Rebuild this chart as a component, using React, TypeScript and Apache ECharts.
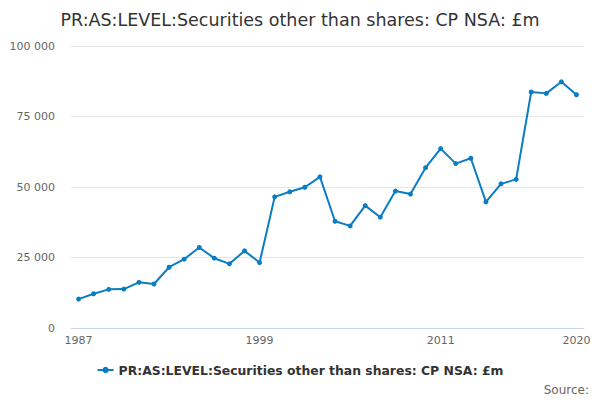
import React, { useEffect, useRef } from "react";
import * as echarts from "echarts";

const title = "PR:AS:LEVEL:Securities other than shares: CP NSA: £m";
const seriesName = "PR:AS:LEVEL:Securities other than shares: CP NSA: £m";
const years = [
  "1987", "1988", "1989", "1990", "1991", "1992", "1993", "1994", "1995", "1996",
  "1997", "1998", "1999", "2000", "2001", "2002", "2003", "2004", "2005", "2006",
  "2007", "2008", "2009", "2010", "2011", "2012", "2013", "2014", "2015", "2016",
  "2017", "2018", "2019", "2020",
];
const values = [
  10250, 12150, 13700, 13800, 16200, 15600, 21550, 24400, 28550, 24750,
  22750, 27350, 23200, 46500, 48300, 49900, 53600, 37850, 36200, 43400,
  39300, 48550, 47500, 56850, 63600, 58300, 60200, 44700, 51100, 52700,
  83700, 83200, 87300, 82700,
];
const yTicks = [0, 25000, 50000, 75000, 100000];

export default function App() {
  const ref = useRef<HTMLDivElement>(null);
  useEffect(() => {
    if (!ref.current) return;
    const chart = echarts.init(ref.current, null, { renderer: "svg" });
    const font = "DejaVu Sans";
    const lastIdx = years.length - 1;
    chart.setOption({
      animation: false,
      textStyle: { fontFamily: font },
      title: {
        text: title,
        left: "center",
        top: 6,
        textStyle: { fontFamily: font, fontSize: 17.5, fontWeight: "normal", color: "#333333" },
      },
      grid: { left: 71, right: 16, top: 46, bottom: 72, containLabel: false },
      xAxis: {
        type: "category",
        data: years,
        boundaryGap: true,
        axisLine: { lineStyle: { color: "#ccd6eb" } },
        axisTick: { alignWithLabel: true, interval: 2, length: 9, lineStyle: { color: "#ccd6eb" } },
        axisLabel: {
          interval: (i: number) => i % 12 === 0 || i === lastIdx,
          color: "#666666",
          fontSize: 11,
          margin: 7,
          fontFamily: font,
        },
      },
      yAxis: {
        type: "value",
        min: yTicks[0],
        max: yTicks[yTicks.length - 1],
        interval: 25000,
        axisLine: { show: false },
        axisTick: { show: false },
        splitLine: { lineStyle: { color: "#e6e6e6" } },
        axisLabel: {
          color: "#666666",
          fontSize: 11,
          margin: 16,
          fontFamily: font,
          formatter: (v: number) => String(v).replace(/\B(?=(\d{3})+(?!\d))/g, " "),
        },
      },
      legend: {
        bottom: 19,
        left: "center",
        itemWidth: 16,
        itemHeight: 8,
        itemGap: 10,
        textStyle: { fontFamily: font, fontSize: 12.4, fontWeight: "bold", color: "#333333" },
        data: [seriesName],
      },
      graphic: [
        {
          type: "text",
          right: 11,
          bottom: 4,
          style: { text: "Source:", fontFamily: font, fontSize: 12, fill: "#666666" },
        },
      ],
      series: [
        {
          name: seriesName,
          type: "line",
          data: values,
          symbol: "circle",
          symbolSize: 5,
          itemStyle: { color: "#0b7dc2" },
          lineStyle: { color: "#0b7dc2", width: 2 },
        },
      ],
    });
    return () => chart.dispose();
  }, []);
  return <div ref={ref} style={{ width: 600, height: 400, position: "absolute", left: 0, top: 0 }} />;
}
